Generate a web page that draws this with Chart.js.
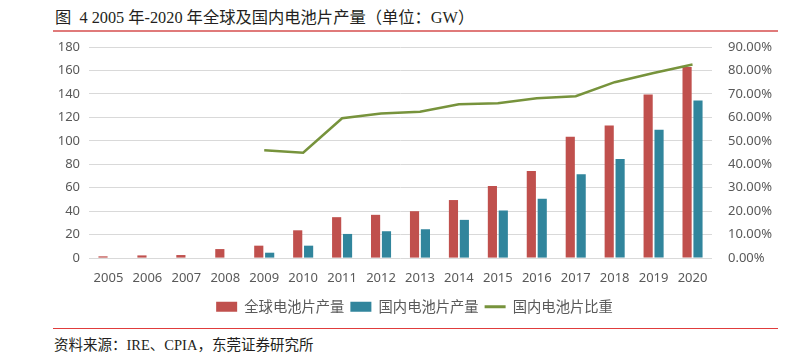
<!DOCTYPE html>
<html>
<head>
<meta charset="utf-8">
<script src="https://cdn.jsdelivr.net/npm/chart.js@4"></script>
<style>
    body { margin: 0; background: #fff; width: 793px; height: 361px; position: relative; overflow: hidden; }
    #title { position: absolute; left: 55px; top: 4px; font: 16.3px "Liberation Serif", "Noto Sans CJK SC"; color: #231f20; white-space: pre; }
    #titleLine { position: absolute; left: 53px; top: 30px; width: 725px; height: 2px; background: #e07a7a; }
    #chartBox { position: absolute; left: 0; top: 35px; width: 793px; height: 289px; }
    #bottomLine { position: absolute; left: 53px; top: 328px; width: 725px; height: 1px; background: #e03c3c; }
    #source { position: absolute; left: 54px; top: 333px; font: 14.5px "Liberation Serif", "Noto Sans CJK SC"; color: #231f20; white-space: nowrap; }
</style>
</head>
<body>
<div id="title">图  4 2005 年-2020 年全球及国内电池片产量（单位：GW）</div>
<div id="titleLine"></div>
<div id="chartBox"><canvas id="cellChart"></canvas></div>
<div id="bottomLine"></div>
<div id="source">资料来源：IRE、CPIA，东莞证券研究所</div>
<script>
// Chart data
const years = ['2005', '2006', '2007', '2008', '2009', '2010', '2011', '2012', '2013', '2014', '2015', '2016', '2017', '2018', '2019', '2020'];
const globalOutput = [1.5, 2.3, 2.6, 7.7, 10.6, 23.7, 34.9, 36.9, 40, 49.5, 61.5, 74.3, 103.5, 113, 139.5, 162.9];
const domesticOutput = [null, null, null, null, 4.6, 10.6, 20.6, 22.9, 24.6, 32.6, 40.6, 50.6, 71.5, 84.6, 109.5, 134.3];
const domesticShare = [null, null, null, null, 46.0, 44.9, 59.6, 61.6, 62.4, 65.6, 66.0, 68.1, 69.0, 75.0, 78.9, 82.5];
const leftTicks = [0, 20, 40, 60, 80, 100, 120, 140, 160, 180];
const rightTicks = [0, 10, 20, 30, 40, 50, 60, 70, 80, 90];

const textColor = '#595959';
const gridColor = '#d9d9d9';
const tickFont = { family: '"Noto Sans", "Liberation Sans"', size: 13 };

// legend sits a little right of centre in the original
const legendShift = {
    id: 'legendShift',
    afterLayout: function(chart) {
        chart.legend.left += 18;
        chart.legend.right += 18;
    }
};

const ctx = document.getElementById('cellChart').getContext('2d');
new Chart(ctx, {
    type: 'bar',
    data: {
        labels: years,
        datasets: [
            {
                label: '全球电池片产量',
                data: globalOutput,
                backgroundColor: '#c0504d',
                yAxisID: 'y',
                categoryPercentage: 0.56,
                barPercentage: 0.84,
                order: 2
            },
            {
                label: '国内电池片产量',
                data: domesticOutput,
                backgroundColor: '#31859c',
                yAxisID: 'y',
                categoryPercentage: 0.56,
                barPercentage: 0.84,
                order: 3
            },
            {
                type: 'line',
                label: '国内电池片比重',
                data: domesticShare,
                borderColor: '#77933c',
                backgroundColor: '#77933c',
                borderWidth: 2.5,
                pointRadius: 0,
                tension: 0,
                yAxisID: 'y1',
                order: 1
            }
        ]
    },
    options: {
        responsive: true,
        maintainAspectRatio: false,
        animation: false,
        layout: {
            padding: { top: 12, bottom: 0 }
        },
        scales: {
            x: {
                grid: { display: false },
                border: { display: false },
                afterFit: function(axis) { axis.height += 4; },
                ticks: {
                    color: textColor,
                    font: tickFont,
                    padding: 4,
                    maxRotation: 0,
                    autoSkip: false
                }
            },
            y: {
                position: 'left',
                min: 0,
                max: 180,
                afterBuildTicks: function(axis) {
                    axis.ticks = leftTicks.map(v => ({ value: v }));
                },
                afterFit: function(axis) {
                    axis.width = 89;
                    axis.paddingTop = 0;
                    axis.paddingBottom = 0;
                },
                grid: { color: gridColor, drawTicks: false },
                border: { display: false },
                ticks: {
                    color: textColor,
                    font: tickFont,
                    padding: 9
                }
            },
            y1: {
                position: 'right',
                min: 0,
                max: 90,
                afterBuildTicks: function(axis) {
                    axis.ticks = rightTicks.map(v => ({ value: v }));
                },
                afterFit: function(axis) {
                    axis.width = 81;
                    axis.paddingTop = 0;
                    axis.paddingBottom = 0;
                },
                grid: { display: false, drawTicks: false },
                border: { display: false },
                ticks: {
                    color: textColor,
                    font: tickFont,
                    padding: 16,
                    callback: function(value) {
                        return value.toFixed(2) + '%';
                    }
                }
            }
        },
        plugins: {
            legend: {
                position: 'bottom',
                labels: {
                    color: textColor,
                    font: { family: '"Noto Sans CJK SC"', size: 14.3 },
                    usePointStyle: true,
                    boxWidth: 21,
                    boxHeight: 10,
                    pointStyleWidth: 21,
                    padding: 6,
                    sort: function(a, b) { return a.datasetIndex - b.datasetIndex; },
                    generateLabels: function(chart) {
                        const items = Chart.defaults.plugins.legend.labels.generateLabels(chart);
                        items.forEach(function(item) {
                            if (item.datasetIndex === 2) {
                                item.pointStyle = 'line';
                                item.lineWidth = 3;
                                item.strokeStyle = '#77933c';
                            } else {
                                item.pointStyle = 'rect';
                                item.lineWidth = 0;
                            }
                        });
                        return items;
                    }
                }
            },
            tooltip: { enabled: false }
        }
    },
    plugins: [legendShift]
});
</script>
</body>
</html>
